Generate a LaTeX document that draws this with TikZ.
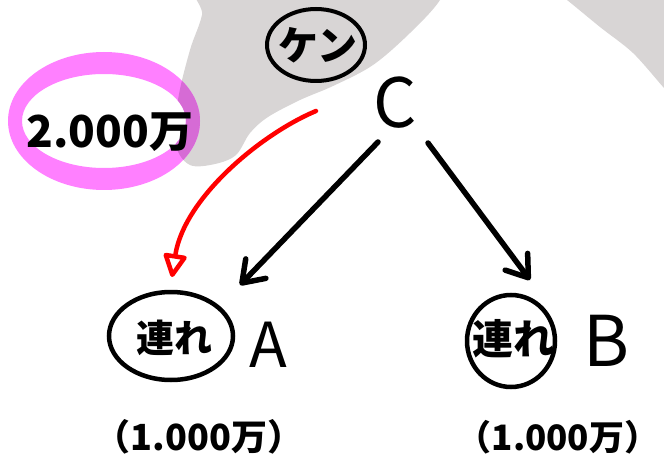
\documentclass[tikz,border=0pt]{standalone}
\usepackage{fontspec}
\setmainfont{Noto Sans CJK JP}
\newfontfamily\hand{Noto Sans CJK JP}
\usetikzlibrary{arrows.meta,shapes.geometric}

\definecolor{brushgrey}{HTML}{D8D5D5}
\definecolor{marker}{HTML}{FF80FF}
\definecolor{markerover}{HTML}{D66BD5}
\definecolor{redpen}{HTML}{FF0000}

% grey brush strokes in the background
\def\leftblob{plot[smooth cycle, tension=0.55] coordinates {
  (208,-30) (450,-30) (440,0) (410,33) (373,65) (333,86) (300,100)
  (268,117) (250,133) (236,155) (215,164) (190,165) (176,145)
  (178,100) (190,50) (202,15)}}

\begin{document}
\begin{tikzpicture}[x=1pt,y=-1pt,
  ink/.style={line width=5.5pt, line cap=round, line join=round},
  ring/.style={draw, ellipse, line width=4.5pt, inner sep=0pt},
  txt/.style={inner sep=0pt, anchor=center, font=\hand},
  arr/.style={ink, -{Straight Barb[length=20pt,width=28pt,round]}},
  redarr/.style={draw=redpen, line width=4.5pt, line cap=round, line join=round,
                 -{Triangle[open,length=26pt,width=25pt,round]}}]
\useasboundingbox (0,0) rectangle (664,465);
\fill[white] (0,0) rectangle (664,465);

% background shading
\fill[brushgrey] \leftblob;
\fill[brushgrey] plot[smooth, tension=0.5] coordinates {(550,-12) (567,0) (600,27) (633,53) (664,88) (684,110)}
  -- (684,-12) -- cycle;

% pink highlight round the total
\coordinate (pk) at (104,121);
\fill[white] (pk) ellipse[x radius=82, y radius=47];
\fill[marker, even odd rule] (pk) ellipse[x radius=96, y radius=69] (pk) ellipse[x radius=82, y radius=47];
\begin{scope}
  \clip \leftblob;
  \fill[markerover, even odd rule] (pk) ellipse[x radius=96, y radius=69] (pk) ellipse[x radius=82, y radius=47];
\end{scope}
\node[txt, font=\hand\bfseries\fontsize{44}{44}\selectfont] (total) at (110,132) {2.000万};

% top: C, the borrower
\node[ring, line width=4pt, minimum width=98pt, minimum height=72pt] (kenring) at (316,45) {};
\node[txt, font=\hand\bfseries\fontsize{40}{40}\selectfont] (ken) at (318,45) {ケン};
\node[txt, font=\hand\fontsize{68}{68}\selectfont] (C) at (395,103) {C};

% bottom: A and B, the guarantors
\node[ring, minimum width=124pt, minimum height=88pt] (ringA) at (171,336) {};
\node[txt, font=\hand\bfseries\fontsize{38}{38}\selectfont] (renA) at (174,338) {連れ};
\node[txt, font=\hand\fontsize{62}{62}\selectfont] (A) at (268,345) {A};
\node[txt, font=\hand\bfseries\fontsize{36}{36}\selectfont] (sumA) at (199,437) {（1.000万）};

\node[ring, minimum width=88pt, minimum height=92pt] (ringB) at (511,341) {};
\node[txt, font=\hand\bfseries\fontsize{41}{41}\selectfont] (renB) at (513,339) {連れ};
\node[txt, font=\hand\fontsize{70}{70}\selectfont] (B) at (606,341) {B};
\node[txt, font=\hand\bfseries\fontsize{35}{35}\selectfont] (sumB) at (558,437) {（1.000万）};

% connector end points
\coordinate (cl) at (378,142);
\coordinate (cr) at (428,143);
\coordinate (ta) at (240,285);
\coordinate (tb) at (530,280);
\coordinate (rs) at (316,111);
\coordinate (rt) at (172,277);

\draw[arr] (cl) -- (ta);
\draw[arr] (cr) -- (tb);
\draw[redarr] (rs) .. controls (261,134) and (184,198) .. (rt);
\end{tikzpicture}
\end{document}
